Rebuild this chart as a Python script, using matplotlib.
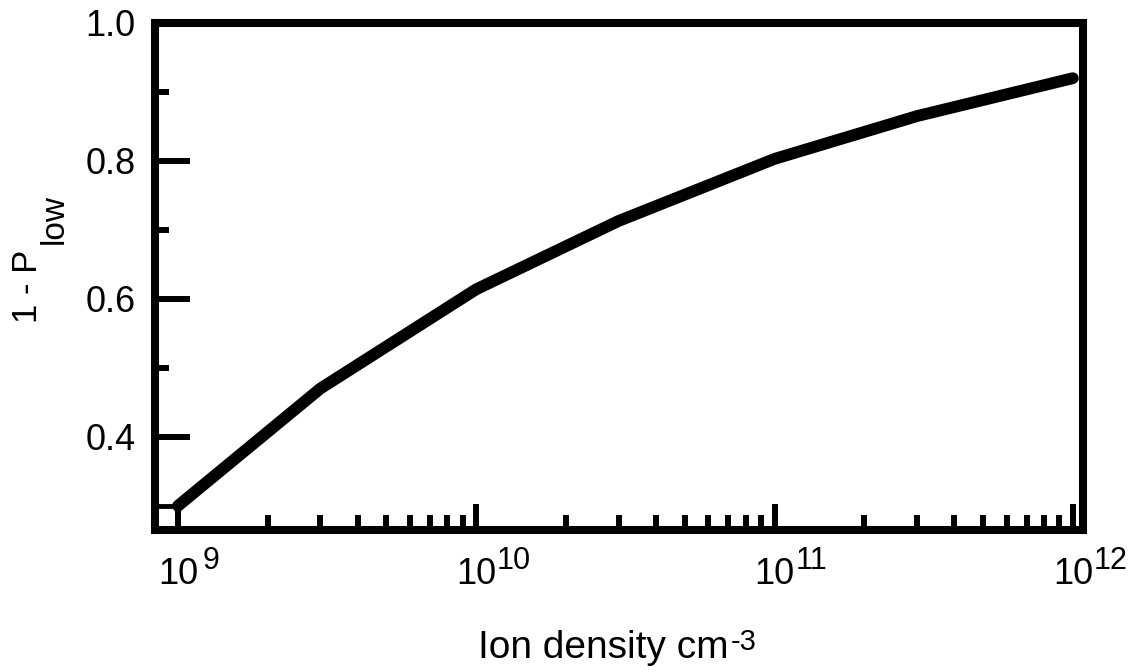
import matplotlib
matplotlib.use("Agg")
import matplotlib.pyplot as plt
from matplotlib.patches import Rectangle

plt.rcParams['font.family'] = ['Liberation Sans', 'DejaVu Sans']

# data
ion_density = [1e9, 3e9, 1e10, 3e10, 1e11, 3e11, 1e12]
one_minus_plow = [0.300, 0.470, 0.614, 0.713, 0.803, 0.865, 0.920]

x_major = [1e9, 1e10, 1e11, 1e12]
x_major_base = ['10', '10', '10', '10']
x_major_exp = ['9', '10', '11', '12']
y_major = [0.4, 0.6, 0.8, 1.0]
y_major_labels = ['0.4', '0.6', '0.8', '1.0']
y_minor = [0.5, 0.7, 0.9]
x_minor = [m * 10.0**d for d in (9, 10, 11) for m in range(2, 10)]

xlabel_main, xlabel_exp = 'Ion density cm', '-3'
ylabel_main, ylabel_sub = '1 - P', 'low'

xlim = (10**8.923, 10**12.034)
ylim = (0.265, 1.0)

W, H = 1136, 672
fig = plt.figure(figsize=(W / 100, H / 100), dpi=100)
ax = fig.add_axes([155 / W, 1 - 530 / H, (1083 - 155) / W, (530 - 23) / H])

ax.plot(ion_density, one_minus_plow, color='black', lw=8.5,
        solid_capstyle='round', solid_joinstyle='round', zorder=3)

# small box at the corner of the first data point
ax.add_patch(Rectangle((xlim[0], ylim[0]), ion_density[0] - xlim[0],
                       one_minus_plow[0] - ylim[0], fill=False,
                       edgecolor='black', lw=3.5, zorder=2))

ax.set_xscale('log')
ax.set_xlim(*xlim)
ax.set_ylim(*ylim)

ax.set_xticks(x_major)
ax.set_xticklabels([])
ax.set_xticks(x_minor, minor=True)
ax.set_xticklabels([], minor=True)
ax.set_yticks(y_major)
ax.set_yticklabels(y_major_labels)
ax.set_yticks(y_minor, minor=True)

for s in ax.spines.values():
    s.set_linewidth(5.8)
    s.set_capstyle('projecting')

ax.tick_params(axis='x', which='major', direction='in', length=19, width=4.3,
               top=False)
ax.tick_params(axis='x', which='minor', direction='in', length=11, width=4.3,
               top=False)
ax.tick_params(axis='y', which='major', direction='in', length=25, width=4.3,
               labelsize=26, pad=14, right=False)
ax.tick_params(axis='y', which='minor', direction='in', length=10, width=4.3,
               right=False)
for t in ax.xaxis.get_major_ticks() + ax.xaxis.get_minor_ticks() + \
        ax.yaxis.get_major_ticks() + ax.yaxis.get_minor_ticks():
    t.tick1line.set_solid_capstyle('round')

# x tick labels: "10" centred on tick with a raised exponent
for xv, base, ex in zip(x_major, x_major_base, x_major_exp):
    ax.annotate(base, xy=(xv, 0), xycoords=('data', 'axes fraction'),
                xytext=(0, -39), textcoords='offset points',
                ha='center', va='baseline', fontsize=26)
    gap = 17.5 if len(ex) == 1 else 15.0
    ax.annotate(ex, xy=(xv, 0), xycoords=('data', 'axes fraction'),
                xytext=(gap, -28), textcoords='offset points',
                ha='left', va='baseline', fontsize=22)

fig.canvas.draw()
renderer = fig.canvas.get_renderer()

# x label with superscript
xl = fig.text(478 / W, 1 - 658 / H, xlabel_main, fontsize=28,
              ha='left', va='baseline')
bb = xl.get_window_extent(renderer)
fig.text((bb.x1 + 2) / W, (H - 650) / H, xlabel_exp,
         fontsize=21, ha='left', va='baseline')

# y label with large lowered subscript
yl = fig.text(37 / W, 1 - 323 / H, ylabel_main, fontsize=25, rotation=90,
              rotation_mode='anchor', ha='left', va='baseline')
bb = yl.get_window_extent(renderer)
fig.text(63 / W, (bb.y1 + 6) / H, ylabel_sub, fontsize=24, rotation=90,
         rotation_mode='anchor', ha='left', va='baseline')

fig.savefig('out.png', dpi=100)
